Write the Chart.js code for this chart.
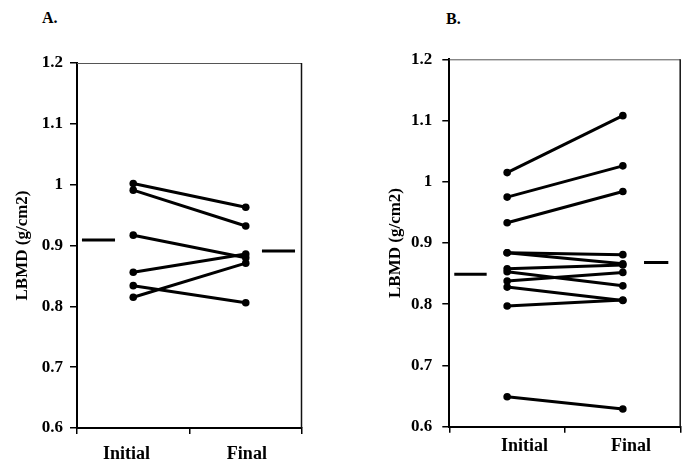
<!DOCTYPE html>
<html>
<head>
<meta charset="utf-8">
<script src="https://cdn.jsdelivr.net/npm/chart.js@4"></script>
<style>
    body { margin: 0; background: #fff; }
    #wrap { position: relative; width: 686px; height: 461px; overflow: hidden; }
    .panel { position: absolute; top: 0; height: 461px; }
    .tag { position: absolute; font: bold 16px "Liberation Serif", serif; color: #000; }
</style>
</head>
<body>
<div id="wrap">
    <div class="tag" style="left:42px; top:9px;">A.</div>
    <div class="tag" style="left:446px; top:10px;">B.</div>
    <div class="panel" style="left:0; width:340px;"><canvas id="chart-a"></canvas></div>
    <div class="panel" style="left:340px; width:346px;"><canvas id="chart-b"></canvas></div>
</div>
<script>
// === Data ===
const categories = ['Initial', 'Final'];
const yTicks = [0.6, 0.7, 0.8, 0.9, 1.0, 1.1, 1.2];

// Panel A
const initialA = [1.002, 0.991, 0.917, 0.856, 0.834, 0.815];
const finalA   = [0.963, 0.932, 0.880, 0.886, 0.806, 0.871];
const meanA    = [0.909, 0.891];

// Panel B
const initialB = [1.015, 0.975, 0.933, 0.884, 0.884, 0.858, 0.853, 0.838, 0.828, 0.797, 0.649];
const finalB   = [1.108, 1.026, 0.984, 0.881, 0.866, 0.864, 0.830, 0.852, 0.806, 0.807, 0.629];
const meanB    = [0.849, 0.868];

// === Layout (pixels / x-scale units, per panel) ===
const layoutA = {
    top: 63, right: 38, yWidth: 77, xHeight: 33,
    titlePad: 12, tickPad: 7, xPad: 10,
    labelAt: [0.44, 1.51],
    meanSpans: [[0.044, 0.338], [1.644, 1.938]]
};
const layoutB = {
    top: 59.3, right: 5.3, yWidth: 109.3, xHeight: 34.3,
    titlePad: 45, tickPad: 10, xPad: 3,
    labelAt: [0.65, 1.57],
    meanSpans: [[0.043, 0.323], [1.683, 1.893]]
};

const FONT = '"Liberation Serif", "Times New Roman", serif';
const INK = '#000';

// === Frame plugin (top + right border) ===
const framePlugin = {
    id: 'frame',
    afterDraw(chart) {
        const { ctx, chartArea: a } = chart;
        ctx.save();
        ctx.strokeStyle = '#555';
        ctx.lineWidth = 1;
        ctx.beginPath();
        ctx.moveTo(a.left, a.top + 0.5);
        ctx.lineTo(a.right - 0.5, a.top + 0.5);
        ctx.stroke();
        ctx.strokeStyle = '#111';
        ctx.lineWidth = 1.5;
        ctx.beginPath();
        ctx.moveTo(a.right - 0.5, a.top);
        ctx.lineTo(a.right - 0.5, a.bottom);
        ctx.stroke();
        ctx.restore();
    }
};

// === Build datasets ===
function buildDatasets(initial, final, mean, lay) {
    const sets = initial.map((v, i) => ({
        data: [{ x: 0.5, y: v }, { x: 1.5, y: final[i] }],
        showLine: true,
        borderColor: INK,
        borderWidth: 3,
        pointRadius: 3.8,
        pointBackgroundColor: INK,
        pointBorderWidth: 0
    }));
    lay.meanSpans.forEach((span, i) => {
        sets.push({
            data: [{ x: span[0], y: mean[i] }, { x: span[1], y: mean[i] }],
            showLine: true,
            borderColor: INK,
            borderWidth: 3,
            pointRadius: 0
        });
    });
    return sets;
}

function makeChart(id, initial, final, mean, lay) {
    const labelMap = {};
    lay.labelAt.forEach((p, i) => { labelMap[p] = categories[i]; });

    return new Chart(document.getElementById(id), {
        type: 'scatter',
        data: { datasets: buildDatasets(initial, final, mean, lay) },
        options: {
            responsive: true,
            maintainAspectRatio: false,
            animation: false,
            layout: { padding: { top: lay.top, right: lay.right, left: 0, bottom: 0 } },
            plugins: { legend: { display: false }, tooltip: { enabled: false } },
            scales: {
                x: {
                    type: 'linear',
                    min: 0, max: 2,
                    afterBuildTicks(scale) {
                        const vals = [0, lay.labelAt[0], 1, lay.labelAt[1], 2];
                        scale.ticks = vals.map(v => ({ value: v }));
                    },
                    afterFit(scale) { scale.height = lay.xHeight; },
                    ticks: {
                        autoSkip: false,
                        maxRotation: 0,
                        padding: lay.xPad,
                        color: INK,
                        font: { family: FONT, size: 18, weight: 'bold' },
                        callback: v => labelMap[v] || ''
                    },
                    grid: {
                        drawOnChartArea: false,
                        tickLength: 6,
                        lineWidth: 1.5,
                        color: ctx => (ctx.tick && Number.isInteger(ctx.tick.value)) ? INK : 'rgba(0,0,0,0)'
                    },
                    border: { display: true, color: INK, width: 2 }
                },
                y: {
                    min: yTicks[0], max: yTicks[yTicks.length - 1],
                    afterBuildTicks(scale) { scale.ticks = yTicks.map(v => ({ value: v })); },
                    afterFit(scale) { scale.width = lay.yWidth; },
                    ticks: {
                        padding: lay.tickPad,
                        color: INK,
                        font: { family: FONT, size: 17, weight: 'bold' },
                        callback: v => String(parseFloat(v.toFixed(1)))
                    },
                    grid: { drawOnChartArea: false, tickLength: 7, lineWidth: 1.5, color: INK },
                    border: { display: true, color: INK, width: 2 },
                    title: {
                        display: true,
                        text: 'LBMD (g/cm2)',
                        color: INK,
                        padding: { top: lay.titlePad, bottom: 0 },
                        font: { family: FONT, size: 17, weight: 'bold' }
                    }
                }
            }
        },
        plugins: [framePlugin]
    });
}

// === Init ===
makeChart('chart-a', initialA, finalA, meanA, layoutA);
makeChart('chart-b', initialB, finalB, meanB, layoutB);
</script>
</body>
</html>
